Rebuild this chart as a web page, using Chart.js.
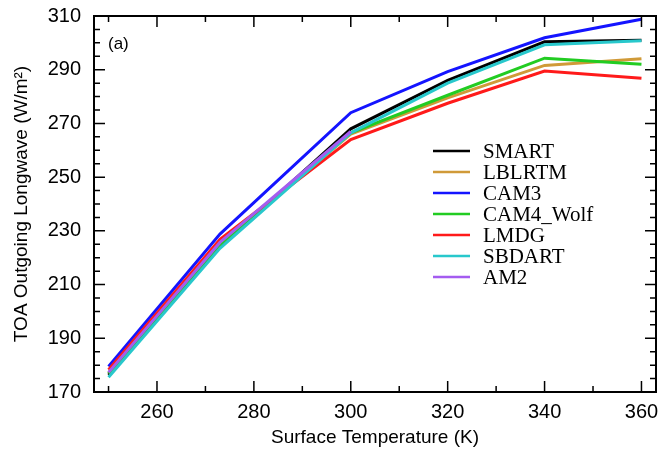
<!DOCTYPE html>
<html>
<head>
<meta charset="utf-8">
<script src="https://cdn.jsdelivr.net/npm/chart.js@4"></script>
<style>
  html, body { margin: 0; padding: 0; background: #fff; }
  #wrap { width: 661px; height: 451px; }
</style>
</head>
<body>
<div id="wrap"><canvas id="olrChart" width="661" height="451"></canvas></div>
<script>
// surface temperatures (K)
const temps = [250, 273, 300, 320, 340, 360];

// OLR per model (W/m2)
const smart    = [176.3, 224.2, 268.0, 286.0, 300.4, 301.0];
const lblrtm   = [177.0, 225.0, 266.0, 279.5, 291.6, 294.1];
const cam3     = [179.5, 228.8, 274.0, 289.3, 301.9, 308.8];
const cam4Wolf = [177.0, 225.0, 266.5, 280.5, 294.3, 292.0];
const lmdg     = [178.3, 226.8, 264.0, 277.5, 289.5, 286.8];
const sbdart   = [175.5, 223.5, 266.5, 285.0, 299.3, 300.8];
const am2      = [177.3, 225.7, 267.0];

const labels = ["SMART", "LBLRTM", "CAM3", "CAM4_Wolf", "LMDG", "SBDART", "AM2"];
const series = [smart, lblrtm, cam3, cam4Wolf, lmdg, sbdart, am2];
const colors = ["#000000", "#d09a38", "#1414ff", "#22cc22", "#ff1a1a", "#28c8cc", "#a45cf0"];

const xTicks = [260, 280, 300, 320, 340, 360];
const yTicks = [170, 190, 210, 230, 250, 270, 290, 310];

// ticks pointing inward on all four sides + frame, NCL style
const frameTicks = {
    id: "frameTicks",
    afterDatasetsDraw(chart) {
        const ctx = chart.ctx;
        const a = chart.chartArea;
        const xs = chart.scales.x, ys = chart.scales.y;
        ctx.save();
        ctx.strokeStyle = "#000";
        ctx.lineWidth = 1.5;
        ctx.beginPath();
        for (let v = 250; v <= 360; v += 10) {
            const px = xs.getPixelForValue(v);
            const len = (v % 20 === 0) ? 11 : 6;
            ctx.moveTo(px, a.bottom); ctx.lineTo(px, a.bottom - len);
            ctx.moveTo(px, a.top); ctx.lineTo(px, a.top + len);
        }
        for (let v = 170; v <= 310; v += 5) {
            const py = ys.getPixelForValue(v);
            const len = ((v - 170) % 20 === 0) ? 11 : 6;
            ctx.moveTo(a.left, py); ctx.lineTo(a.left + len, py);
            ctx.moveTo(a.right, py); ctx.lineTo(a.right - len, py);
        }
        ctx.stroke();
        ctx.lineWidth = 2;
        ctx.strokeRect(a.left, a.top, a.right - a.left, a.bottom - a.top);

        // panel label
        ctx.fillStyle = "#000";
        ctx.font = "17px 'Liberation Sans', Arial, sans-serif";
        ctx.textBaseline = "middle";
        ctx.fillText("(a)", a.left + 14, a.top + 28);

        // legend
        ctx.font = "21px 'Liberation Serif', 'Times New Roman', serif";
        chart.data.datasets.forEach((ds, i) => {
            const y = 151 + i * 21;
            ctx.strokeStyle = ds.borderColor;
            ctx.lineWidth = 2.5;
            ctx.beginPath();
            ctx.moveTo(433, y); ctx.lineTo(470, y);
            ctx.stroke();
            ctx.fillText(ds.label, 483, y + 1);
        });
        ctx.restore();
    }
};

const datasets = labels.map((name, i) => ({
    label: name,
    data: series[i].map((v, j) => ({ x: temps[j], y: v })),
    borderColor: colors[i],
    backgroundColor: colors[i],
    borderWidth: 3,
    pointRadius: 0,
    tension: 0,
    fill: false,
    order: labels.length - i
}));

const tickFont = { family: "'Liberation Sans', Arial, sans-serif", size: 20 };
const titleFont = { family: "'Liberation Sans', Arial, sans-serif", size: 19 };

new Chart(document.getElementById("olrChart"), {
    type: "line",
    data: { datasets },
    options: {
        responsive: false,
        animation: false,
        layout: { padding: { top: 16, right: 5, left: 0, bottom: 0 } },
        plugins: { legend: { display: false }, tooltip: { enabled: false } },
        scales: {
            x: {
                type: "linear",
                min: 247,
                max: 363,
                afterBuildTicks: s => { s.ticks = xTicks.map(v => ({ value: v })); },
                afterFit: s => { s.height = 59; s.paddingLeft = 0; s.paddingRight = 0; },
                grid: { display: false, drawTicks: false },
                border: { display: false },
                ticks: { color: "#000", font: tickFont, padding: 8, maxRotation: 0 },
                title: { display: true, text: "Surface Temperature (K)", color: "#000", font: titleFont, padding: { top: 0, bottom: 2 } }
            },
            y: {
                type: "linear",
                min: 170,
                max: 310,
                afterBuildTicks: s => { s.ticks = yTicks.map(v => ({ value: v })); },
                afterFit: s => { s.width = 94; s.paddingTop = 0; s.paddingBottom = 0; },
                grid: { display: false, drawTicks: false },
                border: { display: false },
                ticks: { color: "#000", font: tickFont, padding: 13 },
                title: { display: true, text: "TOA Outgoing Longwave (W/m²)", color: "#000", font: titleFont, padding: { top: 10, bottom: 0 } }
            }
        }
    },
    plugins: [frameTicks]
});
</script>
</body>
</html>
